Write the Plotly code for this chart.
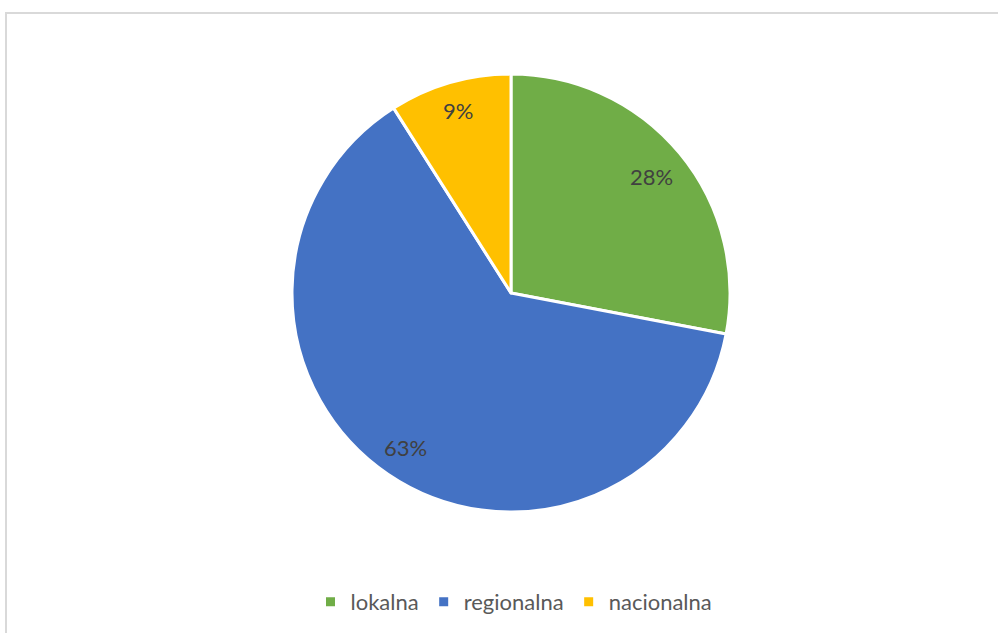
import math
import plotly.graph_objects as go

categories = ["lokalna", "regionalna", "nacionalna"]
values = [28, 63, 9]
colors = ["#70AD47", "#4472C4", "#FFC000"]
label_radius = [0.835, 0.855, 0.87]  # fraction of pie radius for inside labels

W, H = 998, 633
L, R, T, B = 30, 6, 74, 121
pw, ph = W - L - R, H - T - B
rad = min(pw, ph) / 2

fig = go.Figure(go.Pie(
    labels=categories,
    values=values,
    sort=False,
    direction="clockwise",
    rotation=0,
    marker=dict(colors=colors, line=dict(color="white", width=3)),
    textinfo="none",
    hoverinfo="label+percent",
))

# percentage labels placed at each slice's mid-angle
total = sum(values)
cum = 0
for v, f in zip(values, label_radius):
    mid = (cum + v / 2) / total * 2 * math.pi
    cum += v
    dx = math.sin(mid) * rad * f
    dy = math.cos(mid) * rad * f
    fig.add_annotation(x=0.5 + dx / pw, y=0.5 + dy / ph, xref="paper", yref="paper",
                       xanchor="center", yanchor="middle",
                       text=f"{round(v / total * 100)}%", showarrow=False,
                       font=dict(family="Lato", size=22, color="#404040"))

fig.add_shape(type="rect", xref="paper", yref="paper",
              x0=(6 - L) / pw, x1=(W + 10 - L) / pw,
              y0=(T + ph - (H + 10)) / ph, y1=1 + (T - 13) / ph,
              line=dict(color="#D9D9D9", width=2), layer="below")

fig.update_layout(
    width=W, height=H,
    margin=dict(l=L, r=R, t=T, b=B),
    paper_bgcolor="white", plot_bgcolor="white",
    showlegend=True,
    legend=dict(orientation="h", x=(514 - L) / pw, xanchor="center",
                y=(T + ph - 602) / ph, yanchor="middle",
                font=dict(family="Lato", size=22, color="#595959"),
                itemwidth=30, tracegroupgap=0),
)

fig.write_html("out.html", config={"displayModeBar": False},
               post_script="document.body.style.margin='0';document.body.style.overflow='hidden';")
